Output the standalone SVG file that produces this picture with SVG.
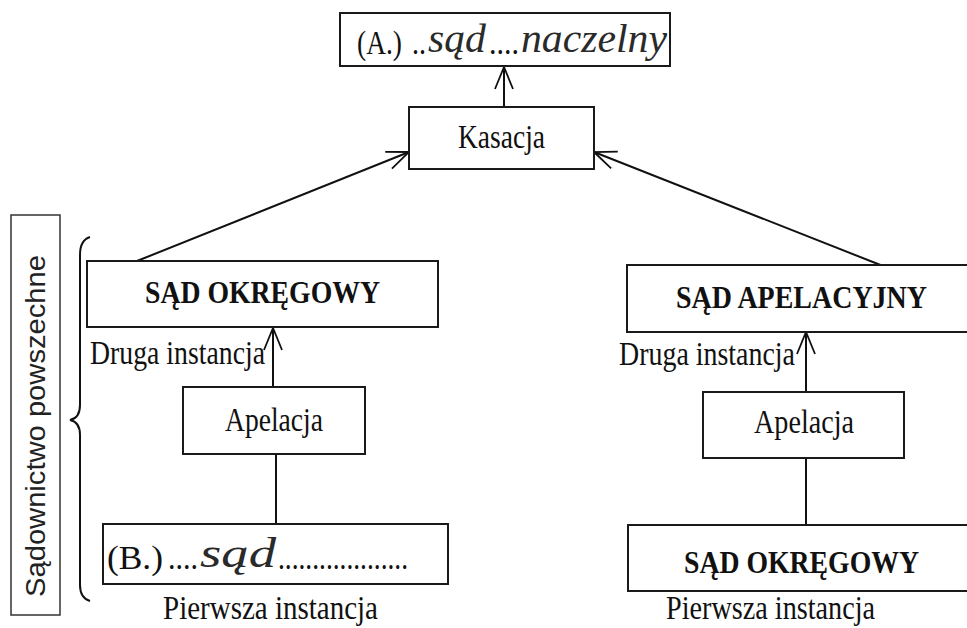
<svg xmlns="http://www.w3.org/2000/svg" width="967" height="628" viewBox="0 0 967 628">
<style>
.box{fill:#fff;stroke:#1a1a1a;stroke-width:2}
.t{font-family:"Liberation Serif","Times New Roman",serif;font-size:33px;fill:#111}
.b{font-weight:bold;font-size:32px}
.hw{font-family:"Liberation Serif",serif;font-style:italic;fill:#2a2a2a}
.ln{stroke:#111;stroke-width:2;fill:none}
</style>
<defs>
<marker id="ah" viewBox="-24 -12 26 24" refX="0" refY="0" markerWidth="26" markerHeight="24" markerUnits="userSpaceOnUse" orient="auto">
<path d="M-22,-9 L0,0 L-22,9" fill="none" stroke="#111" stroke-width="1.8"/>
</marker>
</defs>
<rect width="967" height="628" fill="#fff"/>

<g id="connectors">
<line class="ln" x1="504" y1="107" x2="504" y2="67" marker-end="url(#ah)"/>
<line class="ln" x1="137" y1="261" x2="409" y2="152" marker-end="url(#ah)"/>
<line class="ln" x1="883" y1="266" x2="594" y2="152" marker-end="url(#ah)"/>
<line class="ln" x1="273" y1="387" x2="273" y2="328" marker-end="url(#ah)"/>
<line class="ln" x1="276" y1="454" x2="276" y2="524"/>
<line class="ln" x1="806" y1="392" x2="806" y2="332" marker-end="url(#ah)"/>
<line class="ln" x1="806" y1="458" x2="806" y2="525"/>
</g>

<g id="node-a">
<rect class="box" x="340" y="13" width="330" height="53"/>
<text class="t" x="357" y="54" textLength="45" lengthAdjust="spacingAndGlyphs">(A.)</text>
<text class="t" x="412" y="54" textLength="14" lengthAdjust="spacingAndGlyphs">..</text>
<text class="hw" x="428" y="52" font-size="40" textLength="58" lengthAdjust="spacingAndGlyphs">sąd</text>
<text class="t" x="489" y="54" textLength="30" lengthAdjust="spacingAndGlyphs">....</text>
<text class="hw" x="521" y="52" font-size="40" textLength="146" lengthAdjust="spacingAndGlyphs">naczelny</text>
</g>

<g id="node-kasacja">
<rect class="box" x="409" y="107" width="185" height="62"/>
<text class="t" x="458" y="148" textLength="87" lengthAdjust="spacingAndGlyphs">Kasacja</text>
</g>

<g id="node-sad-okregowy-left">
<rect class="box" x="87" y="261" width="351" height="66"/>
<text class="t b" x="145" y="303" textLength="235" lengthAdjust="spacingAndGlyphs">SĄD OKRĘGOWY</text>
</g>
<g id="label-druga-left">
<text class="t" x="90" y="364" textLength="175" lengthAdjust="spacingAndGlyphs">Druga instancja</text>
</g>

<g id="node-apelacja-left">
<rect class="box" x="183" y="387" width="182" height="67"/>
<text class="t" x="225" y="431" textLength="98" lengthAdjust="spacingAndGlyphs">Apelacja</text>
</g>

<g id="node-b">
<rect class="box" x="103" y="524" width="345" height="60"/>
<text class="t" x="107" y="569" textLength="56" lengthAdjust="spacingAndGlyphs">(B.)</text>
<text class="t" x="168" y="569" textLength="30" lengthAdjust="spacingAndGlyphs">....</text>
<text class="hw" x="200" y="567" font-size="42" textLength="76" lengthAdjust="spacingAndGlyphs">sąd</text>
<text class="t" x="278" y="569" textLength="130" lengthAdjust="spacingAndGlyphs">...................</text>
</g>
<g id="label-pierwsza-left">
<text class="t" x="163" y="619" textLength="215" lengthAdjust="spacingAndGlyphs">Pierwsza instancja</text>
</g>

<g id="node-sad-apelacyjny">
<rect class="box" x="627" y="265" width="345" height="67"/>
<text class="t b" x="676" y="308" textLength="251" lengthAdjust="spacingAndGlyphs">SĄD APELACYJNY</text>
</g>
<g id="label-druga-right">
<text class="t" x="619" y="365" textLength="176" lengthAdjust="spacingAndGlyphs">Druga instancja</text>
</g>

<g id="node-apelacja-right">
<rect class="box" x="703" y="392" width="201" height="66"/>
<text class="t" x="754" y="433" textLength="100" lengthAdjust="spacingAndGlyphs">Apelacja</text>
</g>

<g id="node-sad-okregowy-right">
<rect class="box" x="628" y="525" width="344" height="66"/>
<text class="t b" x="684" y="573" textLength="235" lengthAdjust="spacingAndGlyphs">SĄD OKRĘGOWY</text>
</g>
<g id="label-pierwsza-right">
<text class="t" x="666" y="619" textLength="209" lengthAdjust="spacingAndGlyphs">Pierwsza instancja</text>
</g>

<g id="group-sadownictwo">
<rect x="11" y="215" width="49" height="400" fill="#fff" stroke="#333" stroke-width="1.5"/>
<text x="0" y="0" transform="translate(45,426) rotate(-90)" text-anchor="middle" font-family="Liberation Sans, Arial, sans-serif" font-size="27" fill="#222" textLength="342" lengthAdjust="spacingAndGlyphs">Sądownictwo powszechne</text>
<path class="ln" stroke-width="1.5" d="M90,237 Q80,240 80,255 L80,405 Q80,418 70,420 Q80,422 80,435 L80,585 Q80,598 90,601"/>
</g>
</svg>
